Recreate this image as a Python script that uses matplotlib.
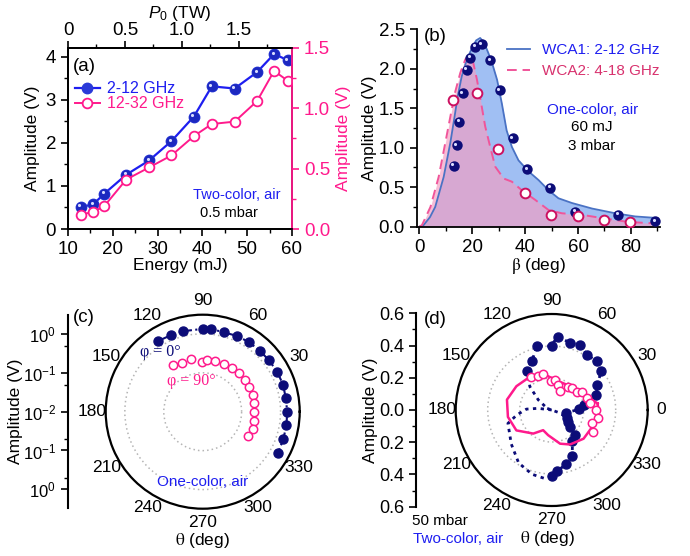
import numpy as np
import matplotlib
matplotlib.use('Agg')
import matplotlib.pyplot as plt
from matplotlib.ticker import MultipleLocator, FixedLocator
from matplotlib.transforms import offset_copy

plt.rcParams['font.family'] = ['Liberation Sans', 'DejaVu Sans']
plt.rcParams['mathtext.fontset'] = 'custom'
plt.rcParams['mathtext.rm'] = 'Liberation Sans'
plt.rcParams['mathtext.it'] = 'Liberation Sans:italic'
plt.rcParams['axes.linewidth'] = 1.3
plt.rcParams['xtick.major.width'] = 1.2
plt.rcParams['ytick.major.width'] = 1.2
plt.rcParams['xtick.minor.width'] = 1.0
plt.rcParams['ytick.minor.width'] = 1.0
plt.rcParams['xtick.major.size'] = 5
plt.rcParams['ytick.major.size'] = 5
plt.rcParams['xtick.minor.size'] = 3
plt.rcParams['ytick.minor.size'] = 3

BLUE = '#1e1ef0'
NAVY = '#0c0c78'
PINK = '#ff1a8c'
CRIMSON = '#cc1060'

# ---- (a) amplitude vs energy
energy = [12.8, 15.6, 18.1, 23, 28.1, 33.1, 38.1, 42.1, 47.2, 52.2, 56, 59]
amp_2_12 = [0.51, 0.57, 0.82, 1.26, 1.59, 2.04, 2.61, 3.31, 3.26, 3.64, 4.06, 3.92]
amp_12_32 = [0.12, 0.14, 0.19, 0.41, 0.51, 0.61, 0.77, 0.87, 0.89, 1.06, 1.31, 1.23]

# ---- (b) amplitude vs beta
beta_wca1 = [13.0, 14.2, 15.1, 16.4, 17.9, 19.3, 21.2, 23.6, 26.8, 30.4, 35.3, 40.8, 49.5, 58.9, 75.3, 89.2]
amp_wca1 = [0.77, 1.03, 1.33, 1.69, 1.99, 2.14, 2.28, 2.31, 2.11, 1.73, 1.12, 0.73, 0.49, 0.19, 0.15, 0.07]
beta_wca2 = [12.7, 21.9, 29.8, 40.0, 49.9, 60.0, 69.9, 79.7]
amp_wca2 = [1.60, 1.69, 0.99, 0.43, 0.15, 0.14, 0.08, 0.06]
sim1_beta = [0, 1.6, 4, 6, 9.2, 11.7, 13.3, 14.5, 16, 18, 20, 21.5, 23, 24.5, 26.2, 27.8, 29.4, 31.2,
             33, 35, 37.5, 41.3, 45.1, 48.9, 52.6, 57.7, 65.3, 74.1, 81.6, 90]
sim1_amp = [0, 0.02, 0.12, 0.25, 0.63, 1.06, 1.39, 1.65, 1.9, 2.12, 2.27, 2.36, 2.39, 2.33, 2.19, 2.04,
            1.86, 1.56, 1.22, 1.01, 0.84, 0.70, 0.59, 0.46, 0.36, 0.30, 0.23, 0.17, 0.13, 0.11]
sim2_beta = [0, 1, 4.2, 7.3, 9.8, 11.7, 13.5, 15.5, 17.4, 19, 19.9, 21.8, 23.7, 24.9, 26.8, 28.7, 31.9,
             35, 38.8, 43.8, 48.9, 53.9, 61.5, 69, 79, 90]
sim2_amp = [0, 0.02, 0.25, 0.63, 1.06, 1.39, 1.7, 1.95, 2.12, 2.17, 2.15, 1.86, 1.5, 1.27, 1.01, 0.76,
            0.61, 0.57, 0.46, 0.34, 0.21, 0.17, 0.15, 0.11, 0.06, 0.04]

# ---- (c) polar, one-color (log radius)
theta_c0 = [122, 112.7, 103.5, 90, 84.5, 75, 65.5, 56, 46.8, 37.6, 28.2, 18.5, 9.1, 0, -9.2, -18.9, -28.5]
r_c0 = [1.40, 1.34, 1.34, 1.34, 1.37, 1.29, 1.37, 1.40, 1.40, 1.43, 1.48, 1.51, 1.45, 1.48, 1.51, 1.54, 1.60]
theta_c90 = [122.5, 112.8, 102.9, 90.8, 84.8, 75.8, 65.7, 56, 46.8, 36.8, 27.9, 18.2, 9.2, 0, -10.3, -19.5, -28.6]
r_c90 = [0.256, 0.223, 0.241, 0.194, 0.214, 0.214, 0.218, 0.218, 0.227, 0.232, 0.218, 0.236, 0.218, 0.210,
         0.218, 0.232, 0.206]
logaxis_labels = [r'$10^{0}$', r'$10^{-1}$', r'$10^{-2}$', r'$10^{-1}$', r'$10^{0}$']

# ---- (d) polar, two-color (linear radius)
theta_d = [-90, -85, -75, -66, -56, -47, -42, -37, -27, -10, 1.4, 9, 19, 29, 38, 47, 57, 66, 75, 85, 90,
           103, 112, 122]
r_d = [0.414, 0.384, 0.35, 0.315, 0.232, 0.216, 0.157, 0.124, 0.106, 0.092, 0.169, 0.202, 0.296, 0.325,
       0.393, 0.417, 0.408, 0.442, 0.435, 0.461, 0.40, 0.41, 0.33, 0.29]
theta_d_fit = [170, 173, 178, 188, 197, 220, 238, 253, 264, 270, 275, 285, 294, 304, 313, 318, 323, 333,
               350, 361, 369, 379, 389, 398, 407, 417, 426, 435, 445, 451, 463, 472, 482, 493, 503, 520]
r_d_fit = [0.0, 0.085, 0.158, 0.22, 0.286, 0.33, 0.39, 0.42, 0.43, 0.414, 0.384, 0.35, 0.315, 0.232, 0.216,
           0.157, 0.124, 0.106, 0.092, 0.169, 0.202, 0.296, 0.325, 0.393, 0.417, 0.408, 0.442, 0.435,
           0.461, 0.40, 0.41, 0.33, 0.29, 0.2, 0.105, 0.03]
theta_d_cross = [160, 340, 335]
r_d_cross = [0.03, 0.04, 0.09]
theta_d90 = [122, 112, 103, 91, 84, 75, 68, 56, 47, 36, 30, 18.4, 10.8, 0, -9.5, -18.4, -27.8]
r_d90 = [0.244, 0.232, 0.233, 0.179, 0.19, 0.163, 0.131, 0.177, 0.186, 0.196, 0.219, 0.233, 0.246, 0.274,
         0.294, 0.266, 0.293]
theta_d90_fit = [8, 21, 39, 59, 84, 103, 120, 146, 167, 189, 210, 232, 247, 262, 284, 298, 318, 337, 352, 368]
r_d90_fit = [0.29, 0.237, 0.2, 0.184, 0.19, 0.233, 0.249, 0.266, 0.287, 0.277, 0.255, 0.187, 0.137, 0.159,
             0.217, 0.244, 0.268, 0.274, 0.298, 0.29]

W, H = 690, 556
fig = plt.figure(figsize=(W / 100, H / 100), dpi=100)


def box(left, top, right, bottom):
    return [left / W, 1 - bottom / H, (right - left) / W, (bottom - top) / H]


def ball(ax, x, y, color, ms):
    # shaded sphere look: dark marker plus small light highlight
    ax.plot(x, y, 'o', color=color, ms=ms, mec='none', zorder=5)
    hl = offset_copy(ax.transData, fig=fig, x=-1.1, y=1.1, units='points')
    ax.plot(x, y, 'o', color='#d8dcff', ms=ms * 0.3, mec='none', transform=hl, zorder=6)


TICK = 13.5
LAB = 12.5

# ================= (a)
axa = fig.add_axes(box(68, 48, 292, 229))
line_blue, = axa.plot(energy, amp_2_12, '-', color=BLUE, lw=1.6, marker='o', ms=7.5,
                      mfc='#2a3ad8', mec='#2a3ad8')
ball(axa, energy, amp_2_12, '#1c28c0', 7.5)
axa.set_xlim(10, 60)
axa.set_ylim(0, 4.2)
axa.xaxis.set_major_locator(MultipleLocator(10))
axa.xaxis.set_minor_locator(MultipleLocator(5))
axa.yaxis.set_major_locator(MultipleLocator(1))
axa.yaxis.set_minor_locator(MultipleLocator(0.5))
axa.tick_params(labelsize=TICK, top=False)
axa.set_xlabel('Energy (mJ)', fontsize=LAB, labelpad=0)
axa.set_ylabel('Amplitude (V)', fontsize=LAB, labelpad=4)

axa2 = axa.twinx()
line_pink, = axa2.plot(energy, amp_12_32, '-', color=PINK, lw=1.4, marker='o', ms=7,
                       mfc='white', mec=PINK, mew=1.3)
axa2.set_ylim(0, 1.5)
axa2.yaxis.set_major_locator(MultipleLocator(0.5))
axa2.yaxis.set_minor_locator(MultipleLocator(0.25))
axa2.tick_params(axis='y', which='both', colors=PINK, labelsize=TICK)
axa2.spines['right'].set_color(PINK)
axa2.set_ylabel('Amplitude (V)', fontsize=LAB, color=PINK, labelpad=4)

sec = axa.secondary_xaxis('top', functions=(lambda e: (e - 10) / 25.4, lambda p: p * 25.4 + 10))
sec.set_xticks([0, 0.5, 1.0, 1.5], labels=['0', '0.5', '1.0', '1.5'])
sec.xaxis.set_minor_locator(MultipleLocator(0.25))
sec.tick_params(labelsize=TICK, pad=1.5)
sec.set_xlabel(r'$P_{\mathrm{0}}$ (TW)', fontsize=LAB, labelpad=3)

axa2.legend([line_blue, line_pink], ['2-12 GHz', '12-32 GHz'], loc='upper left',
            bbox_to_anchor=(0.03, 0.815), frameon=False, labelcolor='linecolor', fontsize=11.5,
            handlelength=1.6, handletextpad=0.4, labelspacing=0.0, borderpad=0, borderaxespad=0)
axa.text(0.02, 0.9, '(a)', transform=axa.transAxes, fontsize=13.5, va='center')
axa.text(0.755, 0.19, 'Two-color, air', transform=axa.transAxes, fontsize=10.5, color=BLUE,
         ha='center', va='center')
axa.text(0.72, 0.09, '0.5 mbar', transform=axa.transAxes, fontsize=10.5, ha='center', va='center')

# ================= (b)
axb = fig.add_axes(box(416.7, 29.3, 660, 226.7))
axb.fill_between(sim1_beta, sim1_amp, color='#8fb4f2', alpha=0.85, lw=0)
l1, = axb.plot(sim1_beta, sim1_amp, '-', color='#4a72c4', lw=1.3)
axb.fill_between(sim2_beta, sim2_amp, color='#f49cc2', alpha=0.66, lw=0)
l2, = axb.plot(sim2_beta, sim2_amp, color='#f0559a', lw=1.4, dashes=(5, 3))
ball(axb, beta_wca1, amp_wca1, NAVY, 7.5)
axb.plot(beta_wca2, amp_wca2, 'o', ms=7, mfc='white', mec=CRIMSON, mew=1.4, zorder=5)
axb.set_xlim(-1, 91)
axb.set_ylim(0, 2.5)
axb.spines['top'].set_visible(False)
axb.spines['right'].set_visible(False)
axb.xaxis.set_major_locator(MultipleLocator(20))
axb.xaxis.set_minor_locator(MultipleLocator(10))
axb.yaxis.set_major_locator(MultipleLocator(0.5))
axb.yaxis.set_minor_locator(MultipleLocator(0.25))
axb.yaxis.set_major_formatter(matplotlib.ticker.FormatStrFormatter('%.1f'))
axb.tick_params(labelsize=TICK)
axb.set_xlabel(r'$\mathrm{\beta}$ (deg)', fontsize=LAB, labelpad=0, math_fontfamily='stix')
axb.set_ylabel('Amplitude (V)', fontsize=LAB, labelpad=1)
axb.legend([l1, l2], ['WCA1: 2-12 GHz', 'WCA2: 4-18 GHz'], loc='upper right',
           bbox_to_anchor=(1.0, 0.93), frameon=False, labelcolor=[BLUE, '#d8326e'], fontsize=11,
           handlelength=1.5, handletextpad=0.8, labelspacing=0.45, borderpad=0, borderaxespad=0)
axb.text(0.03, 0.965, '(b)', transform=axb.transAxes, fontsize=13.5, va='center')
axb.text(0.725, 0.59, 'One-color, air', transform=axb.transAxes, fontsize=11, color=BLUE,
         ha='center', va='center')
axb.text(0.72, 0.505, '60 mJ', transform=axb.transAxes, fontsize=11, ha='center', va='center')
axb.text(0.72, 0.41, '3 mbar', transform=axb.transAxes, fontsize=11, ha='center', va='center')


# ================= polar helpers
def style_polar(ax, labels):
    ax.set_thetagrids(np.arange(0, 360, 30), labels=labels)
    ax.xaxis.grid(False)
    ax.tick_params(axis='x', direction='in', length=5, width=1.2, pad=3, labelsize=12.5)
    ax.spines['polar'].set_linewidth(1.6)


def side_axis(rect, size):
    a = fig.add_axes(rect)
    for s in ['right', 'top', 'bottom']:
        a.spines[s].set_visible(False)
    a.spines['left'].set_linewidth(1.5)
    a.set_xticks([])
    a.patch.set_alpha(0)
    a.tick_params(axis='y', labelsize=size)
    return a


# ================= (c)
axc = fig.add_axes(box(105.7, 314.7, 299.7, 508.7), projection='polar')
axc.set_rscale('log')
axc.set_rlim(0.01, 3.1)
axc.set_rgrids([0.1, 1], labels=['', ''])
axc.yaxis.grid(True, color='#b4b4b4', linestyle=(0, (1, 2)), lw=1.1)
style_polar(axc, [''] + [str(a) for a in range(30, 360, 30)])
axc.plot(np.radians(theta_c0), r_c0, '-.', color=NAVY, lw=1.5, marker='o', ms=6.5, mec=NAVY)
axc.plot(np.radians(theta_c90), r_c90, 'o', ms=6, mfc='white', mec=PINK, mew=1.1)
axc.text(0.28, 0.81, 'φ = 0°', transform=axc.transAxes, color=NAVY, fontsize=11.5,
         family=['Liberation Serif', 'DejaVu Serif'], ha='center', va='center')
axc.text(0.44, 0.66, 'φ = 90°', transform=axc.transAxes, color=PINK, fontsize=11.5,
         family=['Liberation Serif', 'DejaVu Serif'], ha='center', va='center')
axc.text(0.5, 0.14, 'One-color, air', transform=axc.transAxes, color=BLUE, fontsize=11,
         ha='center', va='center')

axcl = side_axis(box(68, 315, 68.2, 508.3), 12)
axcl.set_ylim(-2.49, 2.49)
axcl.set_yticks([2, 1, 0, -1, -2], labels=logaxis_labels)
axcl.yaxis.set_minor_locator(FixedLocator([1.699, 0.699, -0.699, -1.699]))
axcl.set_ylabel('Amplitude (V)', fontsize=LAB, labelpad=0)

# ================= (d)
axd = fig.add_axes(box(455.7, 314, 647.7, 506), projection='polar')
axd.set_rlim(0, 0.6)
axd.set_rgrids([0.2, 0.4], labels=['', ''])
axd.yaxis.grid(True, color='#b4b4b4', linestyle=(0, (1, 2)), lw=1.1)
style_polar(axd, [str(a) for a in range(0, 360, 30)])
axd.plot(np.radians(theta_d_fit), r_d_fit, color=NAVY, lw=2, linestyle=(0, (1.2, 1.6)))
axd.plot(np.radians(theta_d_cross), r_d_cross, color=NAVY, lw=2, linestyle=(0, (1.2, 1.6)))
axd.plot(np.radians(theta_d), r_d, 'o', color=NAVY, ms=6.5, mec=NAVY)
axd.plot(np.radians(theta_d90_fit), r_d90_fit, '-', color=PINK, lw=1.8)
axd.plot(np.radians(theta_d90), r_d90, 'o', ms=6, mfc='white', mec=PINK, mew=1.1)

axdl = side_axis(box(416, 313.3, 416.2, 506.7), 13)
axdl.set_ylim(-0.6, 0.6)
axdl.set_yticks(np.arange(-0.6, 0.61, 0.2),
                labels=['0.6', '0.4', '0.2', '0.0', '0.2', '0.4', '0.6'])
axdl.yaxis.set_minor_locator(MultipleLocator(0.1))
axdl.set_ylabel('Amplitude (V)', fontsize=LAB, labelpad=1)

# ================= panel letters and footer texts
fig.text(84 / W, 1 - 318 / H, '(c)', fontsize=13.5, ha='center', va='center')
fig.text(435 / W, 1 - 319 / H, '(d)', fontsize=13.5, ha='center', va='center')
fig.text(202 / W, 1 - 540 / H, r'$\mathrm{\theta}$ (deg)', fontsize=LAB, ha='center', va='center',
         math_fontfamily='stix')
fig.text(547 / W, 1 - 538 / H, r'$\mathrm{\theta}$ (deg)', fontsize=LAB, ha='center', va='center',
         math_fontfamily='stix')
fig.text(440 / W, 1 - 521 / H, '50 mbar', fontsize=11, ha='center', va='center')
fig.text(458 / W, 1 - 539 / H, 'Two-color, air', fontsize=11, color=BLUE, ha='center', va='center')

fig.savefig('out.png', dpi=100)
